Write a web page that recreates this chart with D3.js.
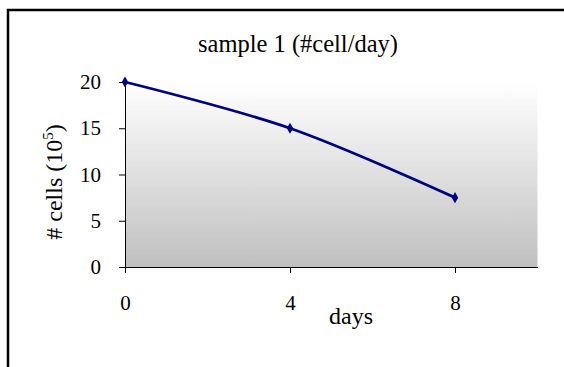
<!DOCTYPE html>
<html>
<head>
<meta charset="utf-8">
<script src="https://cdn.jsdelivr.net/npm/d3@7"></script>
<style>
  body { margin: 0; background: #fff; }
  text { font-family: "Liberation Serif", "Times New Roman", serif; fill: #000; }
</style>
</head>
<body>
<div class="chart"></div>
<script>
const days = [0, 4, 8];
const cells = [20, 15, 7.5];
const xTicks = [0, 4, 8];
const yTicks = [0, 5, 10, 15, 20];

const width = 564;
const height = 367;
const svg = d3.select('.chart')
	.append('svg')
	.attr('width', width)
	.attr('height', height)

// frame
svg.append('rect')
	.attr('x', 8).attr('y', 10)
	.attr('width', 600).attr('height', 400)
	.attr('fill', 'none')
	.attr('stroke', '#000')
	.attr('stroke-width', 2.5)

const x = d3.scaleLinear().domain([0, 10]).range([125, 537.5])
const y = d3.scaleLinear().domain([0, 20]).range([267, 82])

const grad = svg.append('defs').append('linearGradient')
	.attr('id', 'bg').attr('x1', 0).attr('y1', 0).attr('x2', 0).attr('y2', 1)
grad.append('stop').attr('offset', '0%').attr('stop-color', '#ffffff')
grad.append('stop').attr('offset', '100%').attr('stop-color', '#c0c0c0')

svg.append('rect')
	.attr('x', x(0)).attr('y', y(20))
	.attr('width', x(10) - x(0)).attr('height', y(0) - y(20))
	.attr('fill', 'url(#bg)')

svg.append('g')
	.attr('transform', `translate(${x(0)},0)`)
	.call(d3.axisLeft(y).tickValues(yTicks).tickSize(6).tickPadding(18))
	.call(g => g.selectAll('text').attr('font-size', '21px').attr('font-family', 'Liberation Serif'))

svg.append('g')
	.attr('transform', `translate(0,${y(0)})`)
	.call(d3.axisBottom(x).tickValues(xTicks).tickSizeInner(6).tickSizeOuter(0).tickPadding(22))
	.call(g => g.selectAll('text').attr('font-size', '21px').attr('font-family', 'Liberation Serif'))

svg.selectAll('.domain').attr('stroke', '#000')

const pts = days.map((d, i) => [d, cells[i]])
svg.append('path')
	.datum(pts)
	.attr('fill', 'none')
	.attr('stroke', '#000080')
	.attr('stroke-width', 2.8)
	.attr('d', d3.line().x(d => x(d[0])).y(d => y(d[1])).curve(d3.curveCatmullRom))

svg.selectAll('.marker')
	.data(pts)
	.enter()
	.append('path')
	.attr('class', 'marker')
	.attr('transform', d => `translate(${x(d[0])},${y(d[1])})`)
	.attr('d', d3.symbol(d3.symbolDiamond, 36))
	.attr('fill', '#000080')

svg.append('text')
	.attr('x', 298).attr('y', 52)
	.attr('text-anchor', 'middle')
	.attr('font-size', '24.5px')
	.text('sample 1 (#cell/day)')

svg.append('text')
	.attr('x', 351).attr('y', 324)
	.attr('text-anchor', 'middle')
	.attr('font-size', '24px')
	.text('days')

const yl = svg.append('text')
	.attr('transform', 'translate(62,182) rotate(-90)')
	.attr('text-anchor', 'middle')
	.attr('font-size', '24px')
yl.append('tspan').text('# cells (10')
yl.append('tspan').attr('font-size', '15px').attr('dy', -9).text('5')
yl.append('tspan').attr('dy', 9).text(')')
</script>
</body>
</html>
